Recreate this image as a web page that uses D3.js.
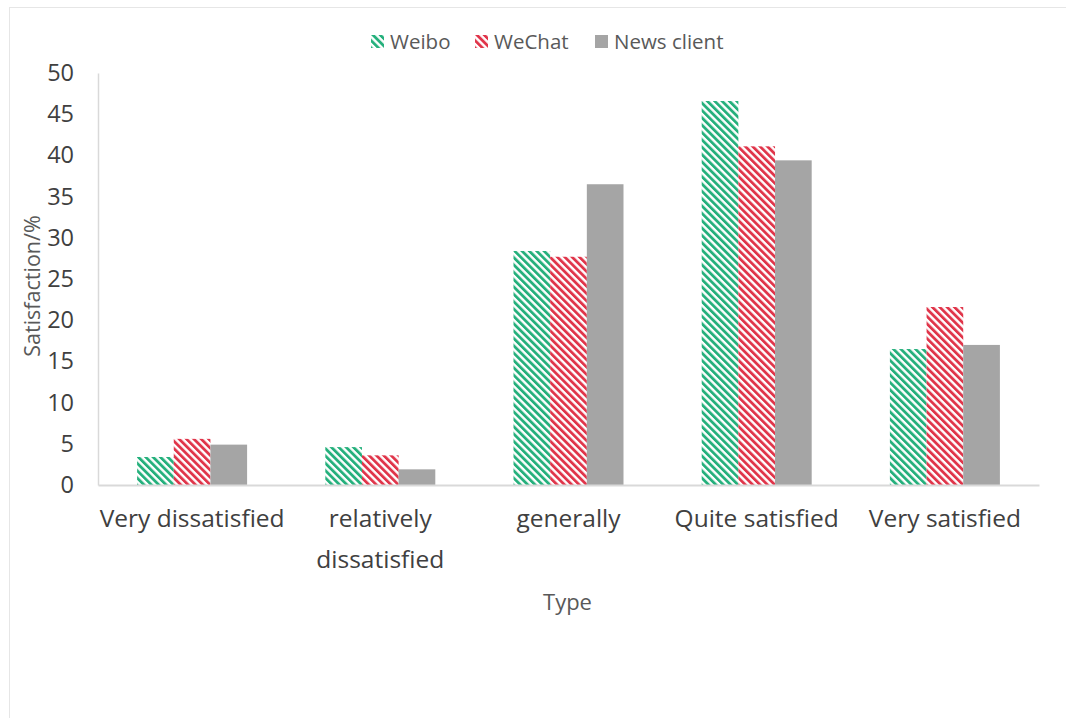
<!DOCTYPE html>
<html>
<head>
<meta charset="utf-8">
<script src="https://cdn.jsdelivr.net/npm/d3@7"></script>
<style>
  body { margin: 0; background: #fff; }
  svg { display: block; font-family: "Open Sans", "Noto Sans", sans-serif; }
</style>
</head>
<body>
<svg id="chart"></svg>
<script>
const categories = ['Very dissatisfied', 'relatively dissatisfied', 'generally', 'Quite satisfied', 'Very satisfied'];
const series = ['Weibo', 'WeChat', 'News client'];
const weibo = [3.4, 4.6, 28.4, 46.6, 16.5];
const wechat = [5.6, 3.6, 27.7, 41.1, 21.6];
const newsClient = [4.9, 1.9, 36.5, 39.4, 17.0];
const yTicks = [0, 5, 10, 15, 20, 25, 30, 35, 40, 45, 50];

const values = [weibo, wechat, newsClient];
const rows = categories.map((c, i) => ({
    category: c,
    items: series.map((s, j) => ({ key: s, value: values[j][i] }))
}));

const width = 1066, height = 718;
const margin = { top: 73, right: 27, bottom: 233, left: 98 };
const innerW = width - margin.left - margin.right;
const innerH = height - margin.top - margin.bottom;

const svg = d3.select('#chart').attr('width', width).attr('height', height);

// stripe patterns
const defs = svg.append('defs');
const stripe = (id, color) => {
    const p = defs.append('pattern')
        .attr('id', id)
        .attr('patternUnits', 'userSpaceOnUse')
        .attr('width', 5.2).attr('height', 5.2)
        .attr('patternTransform', 'rotate(-45)');
    p.append('rect').attr('width', 5.2).attr('height', 5.2).attr('fill', '#fff');
    p.append('rect').attr('width', 2.8).attr('height', 5.2).attr('fill', color);
};
stripe('pWeibo', '#25b07c');
stripe('pWeChat', '#e0354a');

const fills = { 'Weibo': 'url(#pWeibo)', 'WeChat': 'url(#pWeChat)', 'News client': '#a5a5a5' };

// outer frame
svg.append('rect')
    .attr('x', 9.5).attr('y', 7.5)
    .attr('width', width + 10).attr('height', height + 10)
    .attr('fill', 'none').attr('stroke', '#e6e6e6');

const chart = svg.append('g').attr('transform', `translate(${margin.left}, ${margin.top})`);

const x = d3.scaleBand().domain(categories).range([0, innerW]).padding(0);
const gap = (x.bandwidth() - 110) / 2;
const xs = d3.scaleBand().domain(series).range([gap, x.bandwidth() - gap]).padding(0);
const y = d3.scaleLinear().domain([0, 50]).range([innerH, 0]);

// bars
const groups = chart.selectAll('.grp')
    .data(rows)
    .join('g')
    .attr('class', 'grp')
    .attr('transform', d => `translate(${x(d.category)}, 0)`);

groups.selectAll('rect')
    .data(d => d.items)
    .join('rect')
    .attr('x', d => xs(d.key))
    .attr('y', d => y(d.value))
    .attr('width', xs.bandwidth())
    .attr('height', d => innerH - y(d.value))
    .attr('fill', d => fills[d.key]);

// y axis
const yaxis = d3.axisLeft(y).tickValues(yTicks).tickSize(0).tickPadding(24);
const yg = chart.append('g').call(yaxis);
yg.select('.domain').attr('stroke', '#d9d9d9').attr('stroke-width', 1.5);
yg.selectAll('text').attr('font-size', 23.5).attr('fill', '#404040')
    .attr('font-family', '"Open Sans", sans-serif');

// x axis
const xaxis = d3.axisBottom(x).tickSize(0).tickPadding(25);
const xg = chart.append('g').attr('transform', `translate(0, ${innerH})`).call(xaxis);
xg.select('.domain').attr('stroke', '#d9d9d9').attr('stroke-width', 2);
xg.selectAll('text')
    .attr('font-size', 24.5).attr('fill', '#404040')
    .attr('font-family', '"Open Sans", sans-serif')
    .each(function (d) {
        const t = d3.select(this);
        if (this.getComputedTextLength() <= x.bandwidth() + 4) return;
        const words = d.split(' ');
        t.text(null);
        words.forEach((w, i) => {
            t.append('tspan').attr('x', 0).attr('dy', i === 0 ? '0.71em' : '1.66em').text(w);
        });
        t.attr('dy', null);
    });

// axis titles
svg.append('text')
    .attr('transform', `translate(40, ${margin.top + innerH / 2 + 7}) rotate(-90)`)
    .attr('text-anchor', 'middle')
    .attr('font-size', 21.5).attr('fill', '#595959')
    .text('Satisfaction/%');

svg.append('text')
    .attr('x', margin.left + innerW / 2 - 1)
    .attr('y', 610)
    .attr('text-anchor', 'middle')
    .attr('font-size', 22).attr('fill', '#595959')
    .text('Type');

// legend
const legendX = [371, 475, 595];
const legend = svg.append('g').selectAll('g')
    .data(series)
    .join('g')
    .attr('transform', (d, i) => `translate(${legendX[i]}, 35)`);
legend.append('rect')
    .attr('width', 13).attr('height', 13)
    .attr('fill', d => fills[d]);
legend.append('text')
    .attr('x', 19).attr('y', 13.5)
    .attr('font-size', 20.5).attr('fill', '#595959')
    .text(d => d);
</script>
</body>
</html>
